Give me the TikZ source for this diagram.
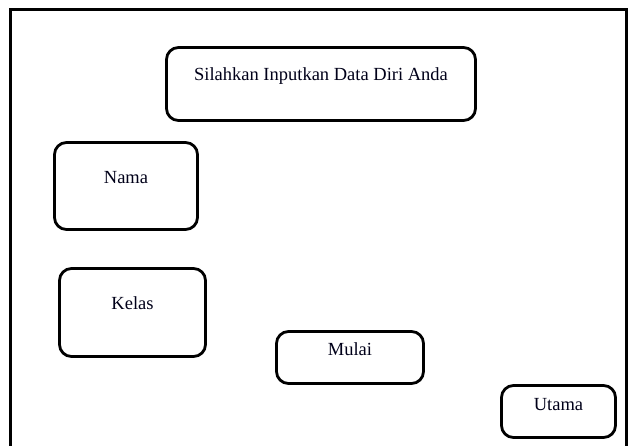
\documentclass[tikz,border=0pt]{standalone}
\usepackage{fontspec}
\setmainfont{Liberation Serif}
\usetikzlibrary{calc}
\begin{document}
\begin{tikzpicture}[x=1pt,y=-1pt,
  box/.style={draw=black, line width=2.8pt, rounded corners=12pt, inner sep=0pt, fill=white},
  lbl/.style={anchor=base, inner sep=0pt, font=\fontsize{18.5}{22}\selectfont, text=black!90!blue}]
\useasboundingbox (0,0) rectangle (629,445);
\coordinate (fa) at (10.5,447);
\coordinate (fb) at (10.5,9.5);
\coordinate (fc) at (626,9.5);
\coordinate (fd) at (626,447);
\draw[line width=3pt] (fa) -- (fb) -- (fc) -- (fd);
\node[box, minimum width=309pt, minimum height=73pt] (title) at (321,84) {};
\node[lbl] (titletext) at ($(title.north)+(0,34)$) {Silahkan Inputkan Data Diri Anda};
\node[box, minimum width=143pt, minimum height=87pt] (nama) at (126,186) {};
\node[lbl] (namatext) at ($(nama.north)+(0,42)$) {Nama};
\node[box, minimum width=146pt, minimum height=88pt] (kelas) at (132.5,312.5) {};
\node[lbl] (kelastext) at ($(kelas.north)+(0,42)$) {Kelas};
\node[box, minimum width=147pt, minimum height=52pt] (mulai) at (350,357.5) {};
\node[lbl] (mulaitext) at ($(mulai.north)+(0,25)$) {Mulai};
\node[box, minimum width=114pt, minimum height=52pt] (utama) at (558.5,411.5) {};
\node[lbl] (utamatext) at ($(utama.north)+(0,26)$) {Utama};
\end{tikzpicture}
\end{document}
